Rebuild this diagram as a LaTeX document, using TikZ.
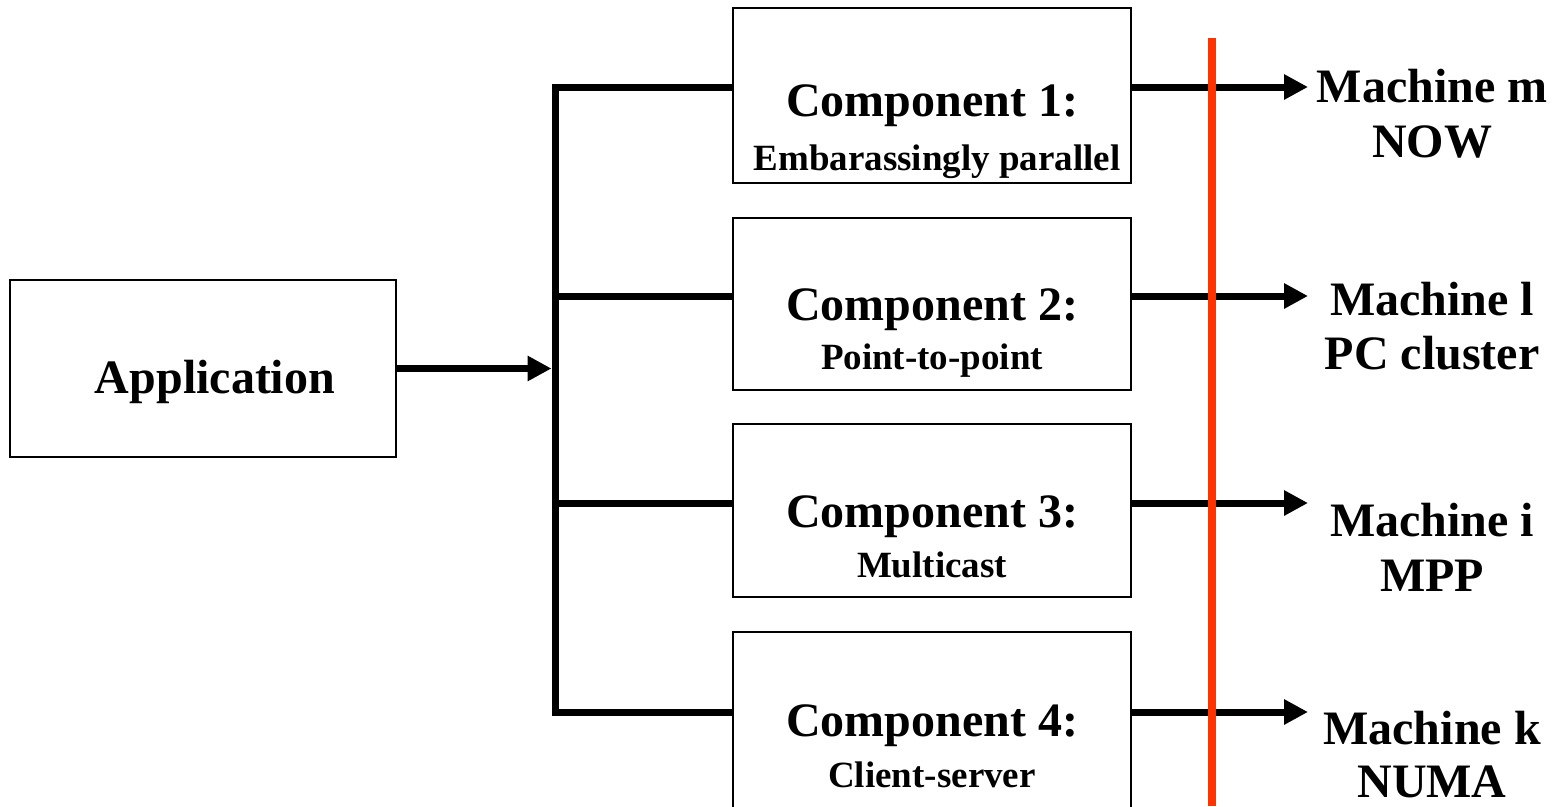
\documentclass[tikz,border=0pt]{standalone}
\usepackage{fontspec}
\setmainfont{Liberation Serif}
\usetikzlibrary{arrows.meta}
\definecolor{divider}{HTML}{FF3300}
\tikzset{
  box/.style={draw=black, line width=1.3pt, fill=white, inner sep=0pt},
  wire/.style={line width=7pt, line join=miter},
  feed/.style={wire, -{Triangle[length=24pt,width=24pt]}},
  big/.style={font=\bfseries\fontsize{48}{55}\selectfont, inner sep=0pt},
  small/.style={font=\bfseries\fontsize{37}{42}\selectfont, inner sep=0pt},
}
\begin{document}
\begin{tikzpicture}[x=1pt,y=-1pt]
\useasboundingbox (0,0) rectangle (1562,806);
\clip (0,0) rectangle (1562,806);

% application block
\node[box, minimum width=386pt, minimum height=177pt] (app) at (203,368.5) {};
\node[big, anchor=base] (apptxt) at (215,393) {Application};

% component blocks
\node[box, minimum width=398pt, minimum height=175pt] (c1) at (932,95.5) {};
\node[box, minimum width=398pt, minimum height=172pt] (c2) at (932,304) {};
\node[box, minimum width=398pt, minimum height=173pt] (c3) at (932,510.5) {};
\node[box, minimum width=398pt, minimum height=182pt] (c4) at (932,723) {};

\node[big, anchor=base] (t1) at (932,116) {Component 1:};
\node[small, anchor=base] (s1) at (937,170) {Embarassingly parallel};
\node[big, anchor=base] (t2) at (932,320) {Component 2:};
\node[small, anchor=base] (s2) at (932,369) {Point-to-point};
\node[big, anchor=base] (t3) at (932,527) {Component 3:};
\node[small, anchor=base] (s3) at (932,577) {Multicast};
\node[big, anchor=base] (t4) at (932,736) {Component 4:};
\node[small, anchor=base] (s4) at (932,787) {Client-server};

% distribution bus
\coordinate (b1) at (555,87);
\coordinate (b2) at (555,296);
\coordinate (b3) at (555,503);
\coordinate (b4) at (555,712);
\draw[wire] (c1.west |- b1) -- (b1) -- (b4) -- (c4.west |- b4);
\draw[wire] (b2) -- (c2.west |- b2);
\draw[wire] (b3) -- (c3.west |- b3);
\draw[feed] (app.east) -- ([xshift=-3.5pt]b1 |- app.east);

% target machines
\node[big, anchor=base] (m1) at (1432,102) {Machine m};
\node[big, anchor=base] (m1b) at (1432,157) {NOW};
\node[big, anchor=base] (m2) at (1432,315) {Machine l};
\node[big, anchor=base] (m2b) at (1432,369) {PC cluster};
\node[big, anchor=base] (m3) at (1432,536) {Machine i};
\node[big, anchor=base] (m3b) at (1432,591) {MPP};
\node[big, anchor=base] (m4) at (1432,744) {Machine k};
\node[big, anchor=base] (m4b) at (1432,797) {NUMA};

\coordinate (e1) at (1308,87);
\coordinate (e2) at (1308,296);
\coordinate (e3) at (1308,503);
\coordinate (e4) at (1308,712);
\draw[feed] (c1.east |- e1) -- (e1);
\draw[feed] (c2.east |- e2) -- (e2);
\draw[feed] (c3.east |- e3) -- (e3);
\draw[feed] (c4.east |- e4) -- (e4);

% mapping boundary
\coordinate (rtop) at (1212,38);
\coordinate (rbot) at (1212,806);
\draw[divider, line width=8pt] (rtop) -- (rbot);
\end{tikzpicture}
\end{document}
